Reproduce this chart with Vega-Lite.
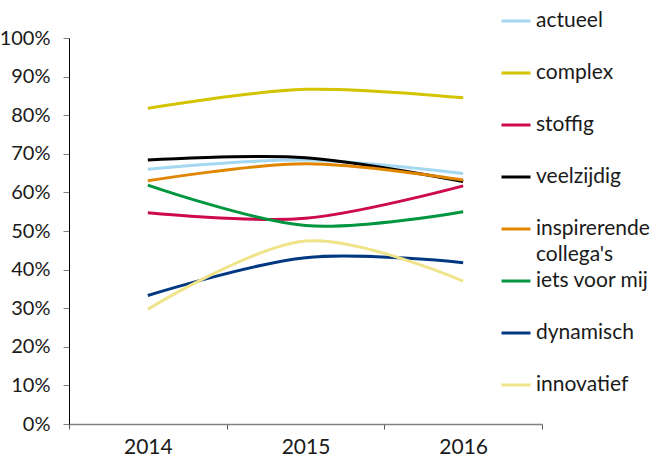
{
  "$schema": "https://vega.github.io/schema/vega-lite/v6.json",
  "width": 473,
  "height": 386,
  "autosize": {"type": "none"},
  "padding": {"left": 69, "top": 38, "right": 110, "bottom": 39},
  "background": "white",
  "config": {
    "view": {"stroke": null},
    "font": "Lato",
    "style": {"guide-label": {"lineHeight": 25.5}},
    "axis": {"labelFont": "Lato", "labelFontSize": 21, "labelColor": "#1a1a1a", "grid": false, "title": null}
  },
  "data": {
    "values": [
      {"year": "2014", "item": "actueel", "value": 0.660},
      {"year": "2015", "item": "actueel", "value": 0.684},
      {"year": "2016", "item": "actueel", "value": 0.649},
      {"year": "2014", "item": "complex", "value": 0.818},
      {"year": "2015", "item": "complex", "value": 0.867},
      {"year": "2016", "item": "complex", "value": 0.845},
      {"year": "2014", "item": "stoffig", "value": 0.547},
      {"year": "2015", "item": "stoffig", "value": 0.533},
      {"year": "2016", "item": "stoffig", "value": 0.617},
      {"year": "2014", "item": "veelzijdig", "value": 0.684},
      {"year": "2015", "item": "veelzijdig", "value": 0.690},
      {"year": "2016", "item": "veelzijdig", "value": 0.628},
      {"year": "2014", "item": "inspirerende collega's", "value": 0.630},
      {"year": "2015", "item": "inspirerende collega's", "value": 0.674},
      {"year": "2016", "item": "inspirerende collega's", "value": 0.632},
      {"year": "2014", "item": "iets voor mij", "value": 0.619},
      {"year": "2015", "item": "iets voor mij", "value": 0.514},
      {"year": "2016", "item": "iets voor mij", "value": 0.550},
      {"year": "2014", "item": "dynamisch", "value": 0.333},
      {"year": "2015", "item": "dynamisch", "value": 0.431},
      {"year": "2016", "item": "dynamisch", "value": 0.418},
      {"year": "2014", "item": "innovatief", "value": 0.297},
      {"year": "2015", "item": "innovatief", "value": 0.474},
      {"year": "2016", "item": "innovatief", "value": 0.370}
    ]
  },
  "mark": {"type": "line", "interpolate": "cardinal", "strokeWidth": 3},
  "encoding": {
    "x": {
      "field": "year", "type": "ordinal",
      "scale": {"type": "band", "paddingInner": 0, "paddingOuter": 0},
      "axis": {"labelAngle": 0, "tickBand": "extent", "domainColor": "#808080", "tickColor": "#555555", "tickSize": 5, "labelPadding": 7, "domainWidth": 1.5}
    },
    "y": {
      "field": "value", "type": "quantitative",
      "scale": {"domain": [0, 1], "nice": false},
      "axis": {"values": [0, 0.1, 0.2, 0.3, 0.4, 0.5, 0.6, 0.7, 0.8, 0.9, 1], "format": ".0%", "labelFontSize": 20, "domainColor": "#000000", "tickColor": "#808080", "tickSize": 6, "labelPadding": 13}
    },
    "color": {
      "field": "item", "type": "nominal",
      "sort": ["actueel", "complex", "stoffig", "veelzijdig", "inspirerende collega's", "iets voor mij", "dynamisch", "innovatief"],
      "scale": {
        "domain": ["actueel", "complex", "stoffig", "veelzijdig", "inspirerende collega's", "iets voor mij", "dynamisch", "innovatief"],
        "range": ["#a3d8f0", "#d3c300", "#cc0a4d", "#000000", "#e08600", "#00963f", "#003882", "#efe48a"]
      },
      "legend": {
        "title": null,
        "orient": "none",
        "legendX": 431,
        "legendY": -33,
        "padding": 0,
        "gridAlign": "all",
        "symbolType": "stroke",
        "symbolSize": 841,
        "symbolStrokeWidth": 3,
        "labelFont": "Lato",
        "labelFontSize": 21,
        "labelColor": "#1a1a1a",
        "labelOffset": 4,
        "labelLimit": 200,
        "rowPadding": 0,
        "labelExpr": "datum.label == \"inspirerende collega's\" ? ['inspirerende', \"collega's\"] : datum.label"
      }
    }
  }
}
